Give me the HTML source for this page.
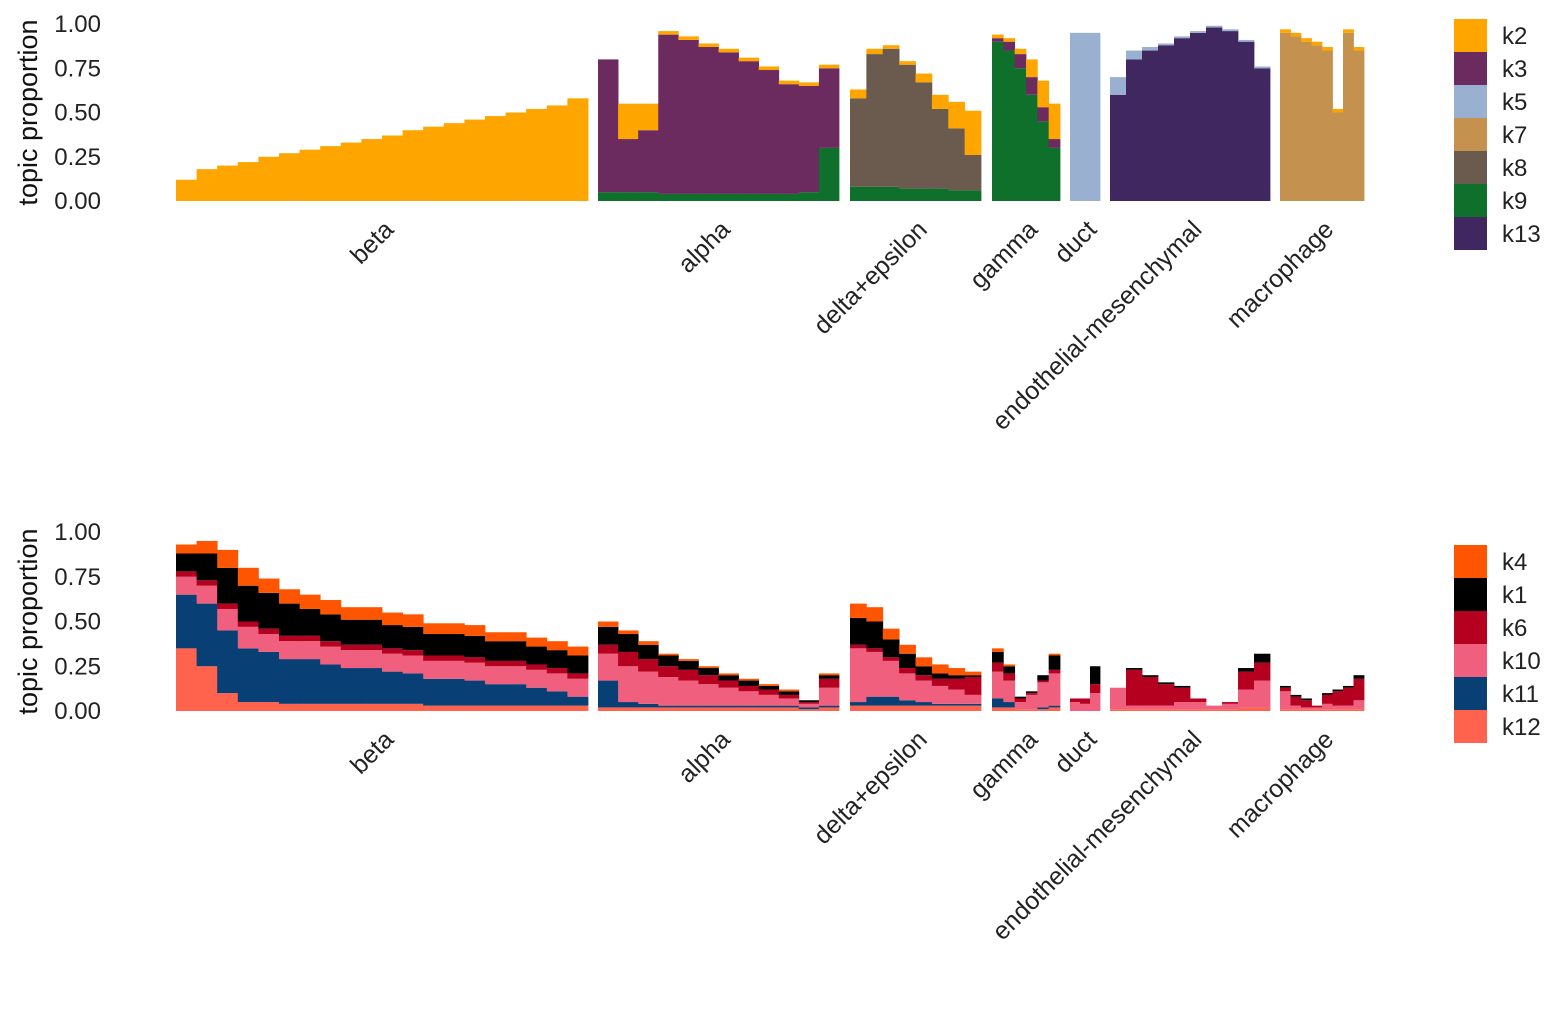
<!DOCTYPE html>
<html><head><meta charset="utf-8"><style>
body{margin:0;background:#fff;}
svg{display:block;font-family:"Liberation Sans",Arial,sans-serif;}
</style></head><body>
<svg id="chart" width="1560" height="1020" viewBox="0 0 1560 1020"></svg>
<script>
// ---------- data ----------
const groups = ["beta","alpha","delta+epsilon","gamma","duct","endothelial-mesenchymal","macrophage"];
const groupX0 = [176,598,850,992,1070,1110,1280];
const groupX1 = [588,839,981,1060,1100,1270,1364];
const yTicks = [0,0.25,0.5,0.75,1];
const yTickLabels = ["0.00","0.25","0.50","0.75","1.00"];

const topTopics = ["k2","k3","k5","k7","k8","k9","k13"];
const topColors = ["#FFA500","#6B2B5F","#9AB0D0","#C4914F","#6B5A4E","#0E702A","#41275F"];
const topStack = ["k9","k8","k13","k7","k5","k3","k2"];
const topData = {
 "beta":{k2:[0.12,0.18,0.2,0.22,0.25,0.27,0.29,0.31,0.33,0.35,0.37,0.4,0.42,0.44,0.46,0.48,0.5,0.52,0.54,0.58]},
 "alpha":{k9:[0.05,0.05,0.05,0.04,0.04,0.04,0.04,0.04,0.04,0.04,0.05,0.3],
          k3:[0.75,0.3,0.35,0.9,0.87,0.83,0.8,0.75,0.7,0.62,0.6,0.45],
          k2:[0,0.2,0.15,0.02,0.02,0.02,0.02,0.02,0.02,0.02,0.02,0.02]},
 "delta+epsilon":{k9:[0.08,0.08,0.08,0.07,0.07,0.07,0.06,0.06],
          k8:[0.5,0.75,0.78,0.7,0.6,0.45,0.35,0.2],
          k2:[0.05,0.03,0.02,0.02,0.05,0.08,0.15,0.25]},
 "gamma":{k9:[0.9,0.85,0.75,0.6,0.45,0.3],k3:[0.02,0.05,0.08,0.1,0.08,0.05],k2:[0.02,0.02,0.03,0.1,0.15,0.2]},
 "duct":{k5:[0.95,0.95,0.95]},
 "endothelial-mesenchymal":{k13:[0.6,0.8,0.85,0.88,0.92,0.95,0.98,0.96,0.9,0.75],k5:[0.1,0.05,0.02,0.01,0.01,0.01,0.01,0.01,0.01,0.01]},
 "macrophage":{k7:[0.95,0.93,0.9,0.88,0.85,0.5,0.95,0.85],k2:[0.02,0.02,0.02,0.02,0.02,0.02,0.02,0.02]}
};

const botTopics = ["k4","k1","k6","k10","k11","k12"];
const botColors = ["#FF5500","#000000","#B5001F","#F0607E","#083F75","#FF634D"];
const botStack = ["k12","k11","k10","k6","k1","k4"];
const botData = {
 "beta":{k12:[0.35,0.25,0.1,0.05,0.05,0.04,0.04,0.04,0.04,0.04,0.04,0.04,0.03,0.03,0.03,0.03,0.03,0.03,0.03,0.03],
   k11:[0.3,0.35,0.35,0.3,0.28,0.25,0.25,0.22,0.2,0.2,0.18,0.17,0.15,0.15,0.14,0.12,0.12,0.1,0.08,0.05],
   k10:[0.1,0.1,0.12,0.12,0.1,0.1,0.1,0.1,0.1,0.1,0.1,0.1,0.1,0.1,0.1,0.1,0.1,0.1,0.1,0.1],
   k6:[0.03,0.03,0.03,0.03,0.03,0.03,0.03,0.03,0.03,0.03,0.03,0.03,0.03,0.03,0.03,0.03,0.03,0.03,0.03,0.03],
   k1:[0.1,0.15,0.2,0.2,0.2,0.18,0.15,0.15,0.14,0.14,0.13,0.13,0.12,0.12,0.12,0.11,0.11,0.1,0.1,0.1],
   k4:[0.05,0.07,0.1,0.1,0.08,0.08,0.08,0.08,0.07,0.07,0.07,0.07,0.06,0.06,0.06,0.05,0.05,0.05,0.05,0.05]},
 "alpha":{k12:[0.02,0.02,0.02,0.02,0.02,0.02,0.02,0.02,0.02,0.02,0.01,0.02],
   k11:[0.15,0.03,0.02,0.01,0.01,0.01,0.01,0.01,0.01,0.01,0.01,0.01],
   k10:[0.15,0.2,0.18,0.16,0.14,0.12,0.1,0.08,0.06,0.04,0.02,0.1],
   k6:[0.05,0.08,0.07,0.06,0.06,0.05,0.04,0.03,0.03,0.02,0.01,0.05],
   k1:[0.1,0.1,0.08,0.06,0.05,0.04,0.03,0.03,0.02,0.02,0.01,0.02],
   k4:[0.03,0.02,0.02,0.01,0.01,0.01,0.01,0.01,0.01,0.01,0,0.01]},
 "delta+epsilon":{k12:[0.03,0.03,0.03,0.03,0.03,0.03,0.03,0.03],
   k11:[0.02,0.05,0.05,0.03,0.02,0.01,0.01,0.01],
   k10:[0.3,0.25,0.2,0.15,0.12,0.1,0.08,0.05],
   k6:[0.02,0.02,0.02,0.03,0.03,0.04,0.06,0.1],
   k1:[0.15,0.15,0.1,0.08,0.05,0.03,0.02,0.01],
   k4:[0.08,0.08,0.06,0.05,0.05,0.05,0.04,0.02]},
 "gamma":{k12:[0.02,0.02,0.01,0.01,0.01,0.02],k11:[0.05,0.03,0,0,0.01,0.01],
   k10:[0.15,0.12,0.04,0.08,0.14,0.18],k6:[0.05,0.04,0.02,0.01,0.01,0.02],
   k1:[0.06,0.04,0.01,0.01,0.03,0.08],k4:[0.02,0.01,0,0,0,0.01]},
 "duct":{k10:[0.05,0.04,0.1],k6:[0.02,0.03,0.05],k1:[0,0,0.1]},
 "endothelial-mesenchymal":{k12:[0.01,0.01,0.01,0.01,0.01,0.01,0.01,0.01,0.02,0.02],
   k10:[0.12,0.02,0.02,0.02,0.04,0.04,0.02,0.03,0.1,0.15],
   k6:[0,0.2,0.16,0.12,0.08,0.02,0,0.01,0.1,0.1],
   k1:[0,0.01,0.01,0.01,0.01,0,0,0,0.02,0.05]},
 "macrophage":{k12:[0.01,0.01,0.01,0.01,0.01,0.01,0.01,0.01],
   k10:[0.1,0.02,0.01,0.01,0.03,0.02,0.02,0.05],
   k6:[0.02,0.05,0.04,0.01,0.05,0.08,0.1,0.12],
   k1:[0.01,0.01,0.01,0,0.01,0.01,0.01,0.02]}
};

// ---------- drawing ----------
const NS="http://www.w3.org/2000/svg";
const svg=document.getElementById('chart');
function mk(tag,attrs,parent){const e=document.createElementNS(NS,tag);for(const k in attrs)e.setAttribute(k,attrs[k]);(parent||svg).appendChild(e);return e;}

function drawPanel(pi,y0,y1,topics,colors,stack,data,legendTop){
  const g=mk('g',{});
  
  
  const yScale=v=>y0-(y0-y1)*v;
  yTicks.forEach((t,i)=>{
    const tx=mk('text',{x:101,y:yScale(t)+8,'text-anchor':'end','font-size':24,fill:'#222'},g);
    tx.textContent=yTickLabels[i];
    
    
  });
  const cy=(y0+y1)/2;
  const yt=mk('text',{x:0,y:0,transform:`translate(37,${cy}) rotate(-90)`,'text-anchor':'middle','font-size':27,fill:'#111'},g);
  yt.textContent='topic proportion';
  
  
  groups.forEach((gn,gi)=>{
    const d=data[gn];const keys=Object.keys(d);
    const n=d[keys[0]].length;
    const x0=groupX0[gi],x1=groupX1[gi],w=(x1-x0)/n;
    for(let i=0;i<n;i++){
      let acc=0;
      stack.forEach(k=>{
        if(!d[k])return;
        const v=d[k][i];if(!v)return;
        const c=colors[topics.indexOf(k)];
        const r=mk('rect',{x:x0+i*w,y:yScale(acc+v),width:w+0.4,height:yScale(acc)-yScale(acc+v),fill:c},g);
        
        
        acc+=v;
      });
    }
    const cx=(x0+x1)/2;
    const lx=cx+13, ly=y0+30;
    const lt=mk('text',{x:0,y:0,transform:`translate(${lx},${ly}) rotate(-45)`,'text-anchor':'end','font-size':25,fill:'#222'},g);
    lt.textContent=gn;
    
    
  });
  topics.forEach((k,i)=>{
    const r=mk('rect',{x:1454,y:legendTop+i*33,width:33,height:33,fill:colors[i]},g);
    
    
    const t=mk('text',{x:1502,y:legendTop+i*33+25,'font-size':24,fill:'#222'},g);
    t.textContent=k;
    
    
  });
}
drawPanel(0,201,24,topTopics,topColors,topStack,topData,19);
drawPanel(1,711,532,botTopics,botColors,botStack,botData,545);
</script>
</body></html>
